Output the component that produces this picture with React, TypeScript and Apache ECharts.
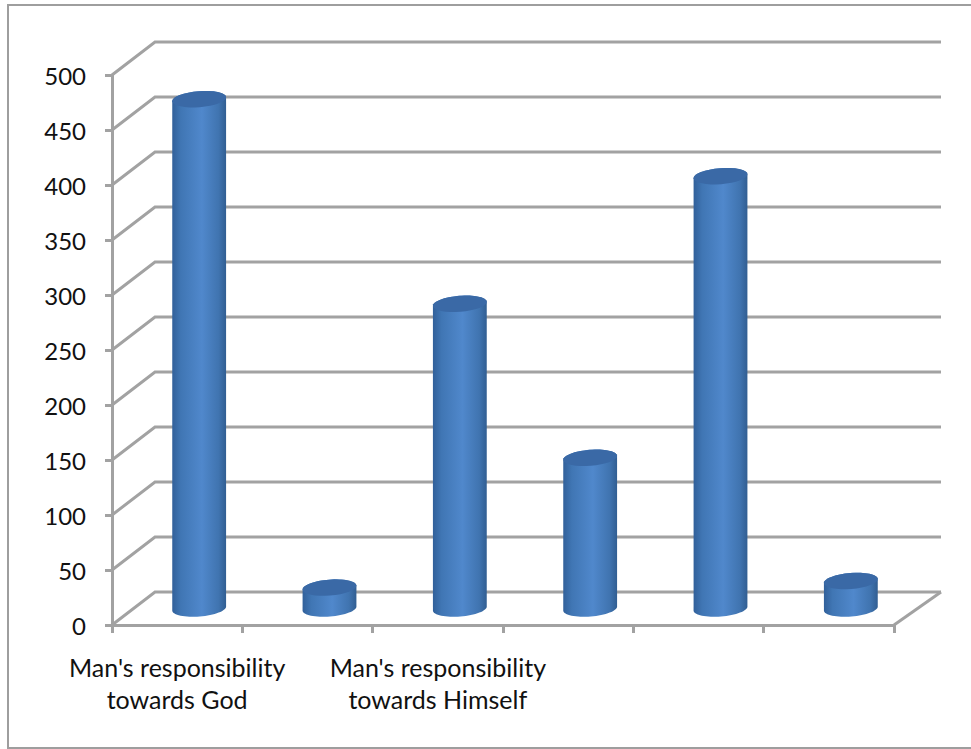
import React, { useEffect, useRef } from "react";
import * as echarts from "echarts";

const categories = [
  "Man's responsibility\ntowards God",
  "",
  "Man's responsibility\ntowards Himself",
  "",
  "",
  "",
];
const values = [463, 19, 277, 137, 393, 25];
const gridValues = [0, 50, 100, 150, 200, 250, 300, 350, 400, 450, 500];

// Depth of the floor in pixels: the back wall sits up and to the right of the axes.
const DEPTH_X = 43;
const DEPTH_Y = -33;
const LINE = "#a2a2a2";
const FONT = "Lato, Carlito, 'Open Sans', sans-serif";

function ellipsePoints(cx: number, cy: number, rx: number, ry: number, tilt: number, from: number, to: number) {
  const pts: number[][] = [];
  const steps = 32;
  for (let i = 0; i <= steps; i++) {
    const t = from + ((to - from) * i) / steps;
    pts.push([
      cx + rx * Math.cos(t) * Math.cos(tilt) - ry * Math.sin(t) * Math.sin(tilt),
      cy + rx * Math.cos(t) * Math.sin(tilt) + ry * Math.sin(t) * Math.cos(tilt),
    ]);
  }
  return pts;
}

function renderGridLine(params: any, api: any) {
  const left = params.coordSys.x;
  const right = left + params.coordSys.width;
  const y = api.coord([0, api.value(0)])[1];
  const children: any[] = [
    {
      type: "polyline",
      shape: {
        points: [
          [left, y],
          [left + DEPTH_X, y + DEPTH_Y],
          [right + DEPTH_X + 4, y + DEPTH_Y],
        ],
      },
      style: { stroke: LINE, lineWidth: 3, fill: "none" },
    },
  ];
  if (api.value(0) === 0) {
    children.push({
      type: "line",
      shape: { x1: right, y1: y, x2: right + DEPTH_X + 4, y2: y + DEPTH_Y },
      style: { stroke: LINE, lineWidth: 3 },
    });
  }
  return { type: "group", children };
}

function renderCylinder(_params: any, api: any) {
  const idx = api.value(0);
  const [fx, baseY] = api.coord([idx, 0]);
  const topY = api.coord([idx, api.value(1)])[1];
  const cx = fx + DEPTH_X / 2 + 0.5;
  const dy = DEPTH_Y / 2;
  const rx = 27;
  const ry = 8;
  const tilt = -0.08;
  const body = [
    ...ellipsePoints(cx, baseY + dy, rx, ry, tilt, 0, Math.PI),
    ...ellipsePoints(cx, topY + dy, rx, ry, tilt, Math.PI, Math.PI * 2),
  ];
  return {
    type: "group",
    children: [
      {
        type: "polygon",
        shape: { points: body },
        style: {
          fill: new echarts.graphic.LinearGradient(0, 0, 1, 0, [
            { offset: 0, color: "#31609a" },
            { offset: 0.16, color: "#4076b4" },
            { offset: 0.55, color: "#5088cc" },
            { offset: 0.86, color: "#4074b0" },
            { offset: 1, color: "#315e92" },
          ]),
        },
      },
      {
        type: "polygon",
        shape: { points: ellipsePoints(cx, topY + dy, rx, ry, tilt, 0, Math.PI * 2) },
        style: { fill: "#3a69a6" },
      },
    ],
  };
}

export default function App() {
  const ref = useRef<HTMLDivElement>(null);

  useEffect(() => {
    const chart = echarts.init(ref.current!, undefined, { renderer: "svg" });
    chart.setOption({
      animation: false,
      backgroundColor: "#ffffff",
      textStyle: { fontFamily: FONT },
      graphic: [
        {
          type: "rect",
          silent: true,
          z: -1,
          shape: { x: 8, y: 5, width: 975, height: 743 },
          style: { fill: "none", stroke: "#9e9e9e", lineWidth: 2 },
        },
      ],
      grid: { left: 112, top: 75, width: 782, height: 550, containLabel: false },
      xAxis: {
        type: "category",
        data: categories,
        boundaryGap: true,
        axisLine: { lineStyle: { color: LINE, width: 3 } },
        axisTick: { show: true, alignWithLabel: false, length: 8, inside: false, lineStyle: { color: LINE, width: 3 } },
        axisLabel: {
          interval: 0,
          margin: 26,
          fontFamily: FONT,
          fontSize: 25,
          lineHeight: 32,
          color: "#111111",
          align: "center",
        },
      },
      yAxis: {
        type: "value",
        min: 0,
        max: 500,
        interval: 50,
        splitLine: { show: false },
        axisLine: { show: true, lineStyle: { color: LINE, width: 3 } },
        axisTick: { show: true, length: 7, lineStyle: { color: LINE, width: 3 } },
        axisLabel: { margin: 26, fontFamily: FONT, fontSize: 24, color: "#111111" },
      },
      series: [
        {
          type: "custom",
          silent: true,
          z: 1,
          data: gridValues.map((v) => [v]),
          encode: { y: 0 },
          renderItem: renderGridLine,
        },
        {
          type: "custom",
          silent: true,
          z: 2,
          data: values.map((v, i) => [i, v]),
          encode: { x: 0, y: 1 },
          renderItem: renderCylinder,
        },
      ],
    });
    return () => chart.dispose();
  }, []);

  return <div ref={ref} style={{ position: "fixed", left: 0, top: 0, width: 971, height: 749 }} />;
}
